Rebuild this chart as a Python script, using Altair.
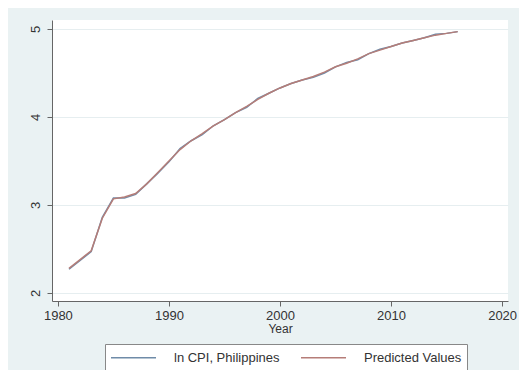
import altair as alt
import pandas as pd

years = list(range(1981, 2017))
ln_cpi = [2.27, 2.37, 2.47, 2.86, 3.08, 3.08, 3.12, 3.24, 3.36, 3.49, 3.64, 3.73,
          3.80, 3.90, 3.97, 4.05, 4.11, 4.21, 4.27, 4.33, 4.38, 4.42, 4.45, 4.50,
          4.57, 4.62, 4.65, 4.72, 4.77, 4.80, 4.84, 4.87, 4.90, 4.94, 4.95, 4.97]
predicted = [2.28, 2.38, 2.48, 2.85, 3.07, 3.09, 3.13, 3.24, 3.37, 3.50, 3.63, 3.73,
             3.81, 3.90, 3.97, 4.05, 4.12, 4.20, 4.27, 4.33, 4.38, 4.42, 4.46, 4.51,
             4.57, 4.61, 4.66, 4.72, 4.76, 4.80, 4.84, 4.87, 4.90, 4.93, 4.95, 4.97]
series_names = ["ln CPI, Philippines", "Predicted Values"]
series_colors = ["#6f8ba8", "#b57d78"]
x_ticks = [1980, 1990, 2000, 2010, 2020]
y_ticks = [2, 3, 4, 5]

rows = []
for name, vals in zip(series_names, [ln_cpi, predicted]):
    for yr, v in zip(years, vals):
        rows.append({"Year": yr, "value": v, "series": name})
df = pd.DataFrame(rows)

FONT = "Liberation Sans"

chart = alt.Chart(df).mark_line(strokeWidth=1.5).encode(
    x=alt.X("Year:Q",
            scale=alt.Scale(domain=[1979.47, 2020.53], nice=False, zero=False),
            axis=alt.Axis(values=x_ticks, format="d", title="Year", grid=False,
                          tickSize=5, labelPadding=3, titlePadding=1,
                          labelFontSize=13, titleFontSize=12, titleFontWeight="normal",
                          domainColor="#666666", tickColor="#666666",
                          labelColor="#333333", titleColor="#333333",
                          labelFont=FONT, titleFont=FONT, labelFlush=False)),
    y=alt.Y("value:Q",
            scale=alt.Scale(domain=[1.909, 5.102], nice=False, zero=False),
            axis=alt.Axis(values=y_ticks, title=None, grid=True, gridColor="#e6eef0",
                          tickSize=5, labelPadding=5, labelAngle=270,
                          labelAlign="center", labelBaseline="bottom",
                          labelFontSize=13, domainColor="#666666", tickColor="#666666",
                          labelColor="#333333", labelFont=FONT)),
    color=alt.Color("series:N",
                    scale=alt.Scale(domain=series_names, range=series_colors),
                    legend=alt.Legend(title=None, orient="none", direction="horizontal",
                                      legendX=53, legendY=324,
                                      symbolType="M-3,0H3", symbolSize=225,
                                      symbolOffset=15,
                                      symbolStrokeWidth=1.5, labelFontSize=13,
                                      labelFont=FONT, labelColor="#333333",
                                      labelOffset=32, columnPadding=18,
                                      padding=5, strokeColor="#888888",
                                      fillColor="white")),
    order=alt.Order("Year:Q"),
).properties(
    width=456, height=281,
    autosize=alt.AutoSizeParams(type="none"),
    padding={"left": 44, "top": 12, "right": 11, "bottom": 69},
    background="#eaf2f3",
).configure_view(fill="white", strokeWidth=0)

chart.save("out.html", embed_options={"renderer": "svg", "actions": False})
